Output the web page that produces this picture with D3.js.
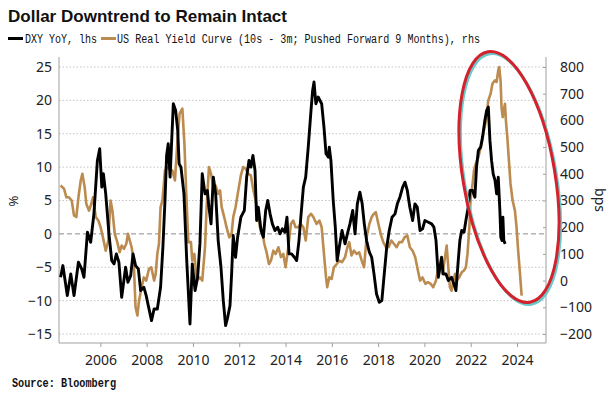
<!DOCTYPE html>
<html>
<head>
<meta charset="utf-8">
<script src="https://cdn.jsdelivr.net/npm/d3@7"></script>
<style>
  body { margin: 0; background: #fff; }
  svg { display: block; }
</style>
</head>
<body>
<svg id="chart" width="610" height="399"></svg>
<script>
// DXY YoY (%), lhs
var dxyYears = [2004.28, 2004.38, 2004.57, 2004.72, 2004.86, 2005.05, 2005.19, 2005.29, 2005.44, 2005.58,
  2005.72, 2005.87, 2005.97, 2006.06, 2006.13, 2006.23, 2006.37, 2006.49, 2006.59, 2006.69,
  2006.80, 2006.92, 2007.09, 2007.19, 2007.31, 2007.41, 2007.52, 2007.64, 2007.74, 2007.88,
  2007.98, 2008.07, 2008.21, 2008.32, 2008.46, 2008.60, 2008.70, 2008.79, 2008.86, 2008.93,
  2009.01, 2009.08, 2009.15, 2009.25, 2009.34, 2009.40, 2009.48, 2009.61, 2009.73, 2009.87,
  2009.97, 2010.09, 2010.20, 2010.30, 2010.40, 2010.52, 2010.62, 2010.69, 2010.78, 2010.88,
  2010.98, 2011.09, 2011.21, 2011.31, 2011.41, 2011.50, 2011.60, 2011.67, 2011.74, 2011.84,
  2011.93, 2012.07, 2012.22, 2012.32, 2012.42, 2012.50, 2012.59, 2012.68, 2012.75, 2012.82,
  2012.94, 2013.04, 2013.14, 2013.23, 2013.33, 2013.43, 2013.54, 2013.66, 2013.76, 2013.86,
  2013.97, 2014.06, 2014.15, 2014.26, 2014.38, 2014.48, 2014.58, 2014.66, 2014.77, 2014.87,
  2014.98, 2015.10, 2015.17, 2015.23, 2015.31, 2015.41, 2015.56, 2015.66, 2015.75, 2015.85,
  2015.89, 2015.96, 2016.06, 2016.15, 2016.23, 2016.32, 2016.44, 2016.57, 2016.67, 2016.78,
  2016.90, 2017.00, 2017.10, 2017.21, 2017.31, 2017.40, 2017.50, 2017.62, 2017.72, 2017.82,
  2017.93, 2018.05, 2018.16, 2018.25, 2018.37, 2018.48, 2018.60, 2018.73, 2018.83, 2018.94,
  2019.06, 2019.16, 2019.26, 2019.37, 2019.49, 2019.59, 2019.69, 2019.81, 2019.92, 2020.02,
  2020.17, 2020.31, 2020.41, 2020.50, 2020.60, 2020.67, 2020.74, 2020.81, 2020.93, 2021.03,
  2021.17, 2021.27, 2021.36, 2021.46, 2021.53, 2021.61, 2021.71, 2021.79, 2021.89, 2021.97,
  2022.08, 2022.18, 2022.25, 2022.33, 2022.43, 2022.51, 2022.61, 2022.69, 2022.76, 2022.83,
  2022.90, 2022.97, 2023.05, 2023.12, 2023.19, 2023.26, 2023.30, 2023.35, 2023.39, 2023.43,
  2023.49];
var dxyValues = [-6.5, -4.75, -9.25, -6, -9.25, -4.25, -5.25, -6.5, 0.25, -1.25,
  3, 11, 12.75, 7, 9, 6, 0, -4, -4.5, -3,
  -4.25, -9.5, -5, -7.25, -6.25, -3, -4.75, -5.25, -8.5, -8,
  -9.25, -10.75, -13, -11.25, -11.25, -8, -2, 5, 11.75, 13.5,
  8.5, 14, 19.5, 18.5, 15.5, 10.5, 10, 6, -4, -13.5,
  -4.5, -8.5, -6.5, -1.5, 9, 6, 6.5, 4, 1.5, 8.5,
  6, -1, -5, -10, -13.75, -12.5, -10.75, -6, -0.25, -3.5,
  -0.5, 2.5, 3.5, 8.5, 11, 10, 11.75, 9.5, 2, 4,
  0.5, -0.5, 3.5, 5, 3, 1.5, 0.5, 1, 0, 0.75,
  0.25, 2.5, -3, -3, -3.5, -4, -1, 2.5, 7, 8.5,
  13, 18.5, 21.5, 22.75, 19.5, 20.5, 19.5, 16, 12, 11.5,
  13, 11, 5, 1, -4, -2, 0.5, -1.5, 0, 1.5,
  3.5, 0, 4.5, 6.25, 4.5, 1.5, -1, -2.75, -3.5, -6,
  -9, -10.25, -10, -6.5, -2, 0.5, 2.5, 3, 4.5, 5.5,
  7, 7.75, 6.5, 4, 2, 4.5, 4, 0.5, 0.75, 2,
  1.75, 1.5, 1, -1, -6.5, -5, -3.5, -6, -6, -7,
  -6.5, -7.5, -8.5, -4, -1, 0.5, 0.25, 2, 4, 6.5,
  6.5, 5.5, 10, 12.5, 13, 14.5, 17, 18.5, 19, 14,
  11, 9, 8, 6, 8.5, 3.5, -0.5, -1, 2.5, -1,
  -1.5];

// US real yield curve, 10s - 3m, pushed forward 9 months (bps), rhs
var curveYears = [2004.28, 2004.43, 2004.53, 2004.64, 2004.76, 2004.86, 2004.96, 2005.05, 2005.15, 2005.22,
  2005.32, 2005.39, 2005.51, 2005.61, 2005.68, 2005.80, 2005.91, 2006.01, 2006.11, 2006.23,
  2006.34, 2006.44, 2006.52, 2006.62, 2006.73, 2006.83, 2006.92, 2007.02, 2007.12, 2007.19,
  2007.35, 2007.44, 2007.52, 2007.60, 2007.67, 2007.78, 2007.88, 2007.98, 2008.10, 2008.20,
  2008.32, 2008.39, 2008.46, 2008.53, 2008.60, 2008.68, 2008.79, 2008.89, 2009.11, 2009.22,
  2009.32, 2009.42, 2009.54, 2009.63, 2009.71, 2009.80, 2009.91, 2009.97, 2010.06, 2010.16,
  2010.30, 2010.40, 2010.52, 2010.59, 2010.69, 2010.78, 2010.88, 2010.98, 2011.09, 2011.17,
  2011.24, 2011.35, 2011.45, 2011.57, 2011.67, 2011.74, 2011.84, 2011.96, 2012.07, 2012.17,
  2012.28, 2012.39, 2012.50, 2012.61, 2012.71, 2012.79, 2012.89, 2012.99, 2013.08, 2013.18,
  2013.28, 2013.37, 2013.47, 2013.57, 2013.69, 2013.80, 2013.90, 2014.00, 2014.12, 2014.23,
  2014.33, 2014.43, 2014.55, 2014.66, 2014.77, 2014.87, 2014.98, 2015.10, 2015.20, 2015.34,
  2015.46, 2015.56, 2015.66, 2015.75, 2015.80, 2015.89, 2015.99, 2016.09, 2016.21, 2016.32,
  2016.44, 2016.57, 2016.67, 2016.75, 2016.85, 2016.95, 2017.07, 2017.18, 2017.29, 2017.39,
  2017.50, 2017.62, 2017.72, 2017.82, 2017.90, 2018.01, 2018.11, 2018.22, 2018.34, 2018.45,
  2018.57, 2018.68, 2018.80, 2018.91, 2019.03, 2019.14, 2019.26, 2019.37, 2019.49, 2019.60,
  2019.69, 2019.81, 2019.92, 2020.04, 2020.15, 2020.27, 2020.38, 2020.50, 2020.60, 2020.67,
  2020.78, 2020.89, 2020.96, 2021.03, 2021.10, 2021.17, 2021.25, 2021.32, 2021.39, 2021.50,
  2021.61, 2021.71, 2021.79, 2021.86, 2021.94, 2021.99, 2022.08, 2022.14, 2022.22, 2022.33,
  2022.40, 2022.47, 2022.57, 2022.66, 2022.76, 2022.86, 2022.94, 2023.05, 2023.12, 2023.19,
  2023.23, 2023.29, 2023.33, 2023.38, 2023.43, 2023.48, 2023.52, 2023.58, 2023.66, 2023.72,
  2023.81, 2023.91, 2023.98, 2024.05, 2024.13, 2024.20];
var curveValues = [356, 344, 312, 312, 300, 244, 238, 312, 375, 400,
  350, 288, 262, 288, 312, 238, 225, 200, 162, 112,
  150, 300, 262, 175, 144, 106, 131, 119, 138, 175,
  125, 75, -100, -131, -75, -25, 12, 0, 44, 50,
  0, 25, 100, 138, 275, 300, 412, 425, 412, 375,
  512, 625, 644, 512, 325, 144, 144, 75, 100, 0,
  12, 0, 125, 275, 425, 400, 350, 356, 325, 338,
  275, 238, 200, 162, 175, 238, 275, 338, 394, 425,
  419, 400, 394, 338, 300, 262, 200, 188, 138, 106,
  62, 75, 112, 100, 125, 88, 100, 50, 125, 212,
  225, 200, 200, 212, 200, 150, 238, 250, 238, 212,
  225, 200, 100, 12, -25, 12, 6, 50, 62, 75,
  69, 88, 125, 144, 94, 112, 100, 106, 75, 50,
  162, 212, 238, 250, 256, 212, 175, 144, 125, 125,
  150, 138, 125, 144, 144, 162, 169, 125, 112, 88,
  50, 0, 12, -12, -6, -12, -25, 0, 50, 50,
  25, 88, 131, 50, -25, -38, 0, 25, 0, 12,
  31, 38, 50, 100, 200, 300, 362, 412, 438, 462,
  488, 512, 562, 600, 675, 700, 738, 750, 744, 788,
  800, 750, 650, 612, 638, 662, 600, 538, 438, 362,
  300, 262, 200, 112, 25, -56];

var leftTicks = [-15, -10, -5, 0, 5, 10, 15, 20, 25];
var rightTicks = [-200, -100, 0, 100, 200, 300, 400, 500, 600, 700, 800];
var yearTicks = [2006, 2008, 2010, 2012, 2014, 2016, 2018, 2020, 2022, 2024];

function toDate(y) {
  var yr = Math.floor(y);
  var s = new Date(yr, 0, 1), e = new Date(yr + 1, 0, 1);
  return new Date(+s + (y - yr) * (e - s));
}

var svg = d3.select("#chart");
var plotL = 59, plotR = 546, plotT = 57, plotB = 343;
var tickFont = "'Noto Sans', 'Liberation Sans', sans-serif";
var monoFont = "'Liberation Mono', 'DejaVu Sans Mono', monospace";

var x = d3.scaleTime().domain([toDate(2006), toDate(2024)]).range([100.4, 517]);
var yL = d3.scaleLinear().domain([-15, 25]).range([334, 67]);
var yR = d3.scaleLinear().domain([-200, 800]).range([334, 67]);

// gridlines
svg.append("g").selectAll("line")
  .data(leftTicks)
  .enter().append("line")
  .attr("x1", plotL).attr("x2", plotR)
  .attr("y1", function(d) { return yL(d); })
  .attr("y2", function(d) { return yL(d); })
  .attr("stroke", function(d) { return d === 0 ? "#8a8a8a" : "#c4c4c4"; })
  .attr("stroke-width", 1)
  .attr("stroke-dasharray", function(d) { return d === 0 ? "5,3" : "1.5,2"; });

// axes frame
svg.append("line").attr("x1", plotL).attr("x2", plotL).attr("y1", plotT).attr("y2", plotB)
  .attr("stroke", "#a0a0a0");
svg.append("line").attr("x1", plotR).attr("x2", plotR).attr("y1", plotT).attr("y2", plotB)
  .attr("stroke", "#a0a0a0");
svg.append("line").attr("x1", plotL).attr("x2", plotR).attr("y1", plotB).attr("y2", plotB)
  .attr("stroke", "#a0a0a0");

var xAxis = svg.append("g")
  .attr("transform", "translate(0," + plotB + ")")
  .call(d3.axisBottom(x).tickValues(yearTicks.map(toDate))
    .tickFormat(d3.timeFormat("%Y")).tickSize(4).tickPadding(8));
xAxis.select(".domain").remove();
xAxis.selectAll(".tick line").attr("stroke", "#a0a0a0");

var leftAxis = svg.append("g")
  .attr("transform", "translate(" + plotL + ",0)")
  .call(d3.axisLeft(yL).tickValues(leftTicks).tickSize(0).tickPadding(7));
leftAxis.select(".domain").remove();

var rightAxis = svg.append("g")
  .attr("transform", "translate(" + plotR + ",0)")
  .call(d3.axisRight(yR).tickValues(rightTicks).tickSize(-3).tickPadding(14));
rightAxis.select(".domain").remove();
rightAxis.selectAll(".tick line").attr("stroke", "#a0a0a0");

svg.selectAll(".tick text")
  .attr("font-family", tickFont)
  .attr("font-size", 14)
  .attr("fill", "#222");

// axis titles
svg.append("text")
  .attr("transform", "translate(18,201) rotate(-90)")
  .attr("text-anchor", "middle")
  .attr("font-family", tickFont).attr("font-size", 13).attr("fill", "#222")
  .text("%");
svg.append("text")
  .attr("transform", "translate(595,200) rotate(90)")
  .attr("text-anchor", "middle")
  .attr("font-family", tickFont).attr("font-size", 14).attr("fill", "#222")
  .text("bps");

// series
var curveData = curveYears.map(function(d, i) { return {date: toDate(d), v: curveValues[i]}; });
var dxyData = dxyYears.map(function(d, i) { return {date: toDate(d), v: dxyValues[i]}; });

var curveLine = d3.line()
  .x(function(d) { return x(d.date); })
  .y(function(d) { return yR(d.v); });
var dxyLine = d3.line()
  .x(function(d) { return x(d.date); })
  .y(function(d) { return yL(d.v); });

svg.append("path")
  .datum(curveData)
  .attr("d", curveLine)
  .attr("fill", "none")
  .attr("stroke", "#bb8b4f")
  .attr("stroke-width", 2.6)
  .attr("stroke-linejoin", "round");

svg.append("path")
  .datum(dxyData)
  .attr("d", dxyLine)
  .attr("fill", "none")
  .attr("stroke", "#000")
  .attr("stroke-width", 2.9)
  .attr("stroke-linejoin", "round");

// red annotation ellipse, with the teal shadow on its lower right
svg.append("ellipse")
  .attr("transform", "translate(510.5,179) rotate(-9.5)")
  .attr("rx", 46).attr("ry", 127)
  .attr("fill", "none").attr("stroke", "#6cc9c9").attr("stroke-width", 3);
svg.append("ellipse")
  .attr("transform", "translate(509,177) rotate(-9.5)")
  .attr("rx", 46).attr("ry", 127)
  .attr("fill", "none").attr("stroke", "#d3222c").attr("stroke-width", 3);

// title, legend, source
svg.append("text")
  .attr("x", 8).attr("y", 22)
  .attr("font-family", "'Liberation Sans', Arial, sans-serif")
  .attr("font-weight", "bold").attr("font-size", 17).attr("fill", "#111")
  .attr("textLength", 279).attr("lengthAdjust", "spacingAndGlyphs")
  .text("Dollar Downtrend to Remain Intact");

svg.append("line").attr("x1", 8).attr("x2", 23).attr("y1", 38.5).attr("y2", 38.5)
  .attr("stroke", "#000").attr("stroke-width", 3);
svg.append("text")
  .attr("x", 25).attr("y", 43)
  .attr("font-family", monoFont).attr("font-size", 12.5).attr("fill", "#111")
  .attr("textLength", 72).attr("lengthAdjust", "spacingAndGlyphs")
  .text("DXY YoY, lhs");
svg.append("line").attr("x1", 101).attr("x2", 116).attr("y1", 38.5).attr("y2", 38.5)
  .attr("stroke", "#bb8b4f").attr("stroke-width", 3);
svg.append("text")
  .attr("x", 117).attr("y", 43)
  .attr("font-family", monoFont).attr("font-size", 12.5).attr("fill", "#111")
  .attr("textLength", 363).attr("lengthAdjust", "spacingAndGlyphs")
  .text("US Real Yield Curve (10s - 3m; Pushed Forward 9 Months), rhs");

svg.append("text")
  .attr("x", 12).attr("y", 387)
  .attr("font-family", monoFont).attr("font-weight", "bold")
  .attr("font-size", 12).attr("fill", "#111")
  .attr("textLength", 104).attr("lengthAdjust", "spacingAndGlyphs")
  .text("Source: Bloomberg");
</script>
</body>
</html>
